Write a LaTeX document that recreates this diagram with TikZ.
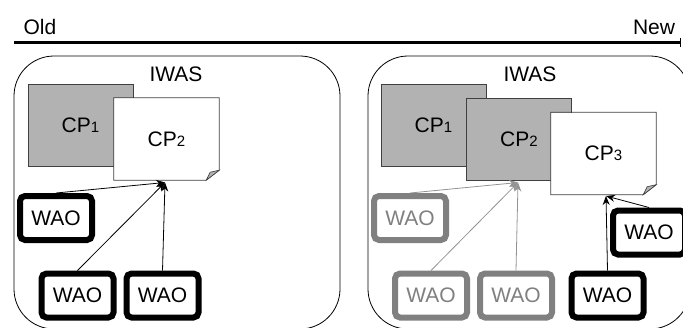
\documentclass[tikz,border=0pt]{standalone}
\usepackage{fontspec}
\setmainfont{Liberation Sans}
\usetikzlibrary{arrows.meta,calc}
\newcommand{\cpsub}[1]{CP{\fontsize{15}{15}\selectfont #1}}
\newcommand{\foldcp}[1]{%
  \fill[white] ($(#1.south east)+(-13,0)$) -- (#1.south east) -- ($(#1.south east)+(0,-10)$) -- cycle;
  \draw[cpline] (#1.north west) -- (#1.north east) -- ($(#1.south east)+(0,-10)$) -- ($(#1.south east)+(-13,0)$) -- (#1.south west) -- cycle;
  \filldraw[fill=black!30, draw=black!75, line width=0.6pt] ($(#1.south east)+(-13,0)$) -- ($(#1.south east)+(-9,-8)$) -- ($(#1.south east)+(0,-10)$) -- cycle;}
\begin{document}
\begin{tikzpicture}[x=1pt,y=-1pt,
  lbl/.style={font=\fontsize{21}{21}\selectfont, inner sep=0pt},
  container/.style={draw=black, line width=0.8pt, rounded corners=40pt, inner sep=0pt},
  cpline/.style={draw=black!75, line width=0.8pt},
  cpbox/.style={cpline, fill=black!30, minimum width=105pt, minimum height=82pt, inner sep=0pt, font=\fontsize{21}{21}\selectfont},
  cpwhite/.style={draw=none, fill=white, minimum width=105pt, minimum height=82pt, inner sep=0pt, font=\fontsize{21}{21}\selectfont},
  wao/.style={draw=black, line width=6pt, rounded corners=5pt, fill=white, minimum width=72pt, minimum height=44pt, inner sep=0pt, font=\fontsize{21}{21}\selectfont, text=black},
  waog/.style={wao, draw=gray, text=gray},
  link/.style={line width=0.8pt, -{Stealth[length=9pt,width=7pt]}},
  linkg/.style={link, draw=gray!85}
]
\useasboundingbox (0,0) rectangle (683,327);
% timeline
\node[lbl] (old) at (40,27) {Old};
\node[lbl] (new) at (654,27) {New};
\coordinate (tl0) at (14,42);
\coordinate (tl1) at (681,42);
\draw[line width=3pt, -{Bar[width=9pt,line width=1.5pt]}] (tl0) -- (tl1);

% containers
\node[container, minimum width=326pt, minimum height=273pt] (boxL) at (177,192.5) {};
\node[container, minimum width=322pt, minimum height=273pt] (boxR) at (529,192.5) {};
\node[lbl] (iwasL) at (176,74) {IWAS};
\node[lbl] (iwasR) at (530,74) {IWAS};

% left CPs
\node[cpbox] (L1) at (80.5,125) {\cpsub{1}};
\node[cpwhite] (L2) at (166.5,139) {\cpsub{2}};
\foldcp{L2}

% right CPs
\node[cpbox] (R1) at (433.5,125) {\cpsub{1}};
\node[cpbox] (R2) at (519,139) {\cpsub{2}};
\node[cpwhite] (R3) at (603.5,153.5) {\cpsub{3}};
\foldcp{R3}

% WAOs left
\node[wao] (wL1) at (56,218) {WAO};
\node[wao] (wL2) at (77.5,295.5) {WAO};
\node[wao] (wL3) at (162.5,295.5) {WAO};
% WAOs right
\node[waog] (wR1) at (410,218) {WAO};
\node[waog] (wR2) at (431,295.5) {WAO};
\node[waog] (wR3) at (516,295.5) {WAO};
\node[wao] (wR4) at (607.5,295.5) {WAO};
\node[wao] (wR5) at (649,232.5) {WAO};

% targets
\coordinate (tL) at (165,182.5);
\coordinate (tRg) at (518,182.5);
\coordinate (tRb) at (606,196);

\draw[link] (wL1.north) -- (tL);
\draw[link] (wL2.north) -- (tL);
\draw[link] (wL3.north) -- (tL);
\draw[linkg] (wR1.north) -- (tRg);
\draw[linkg] (wR2.north) -- (tRg);
\draw[linkg] (wR3.north) -- (tRg);
\draw[link] (wR4.north) -- (tRb);
\draw[link] (wR5.north) -- (tRb);
\end{tikzpicture}
\end{document}
